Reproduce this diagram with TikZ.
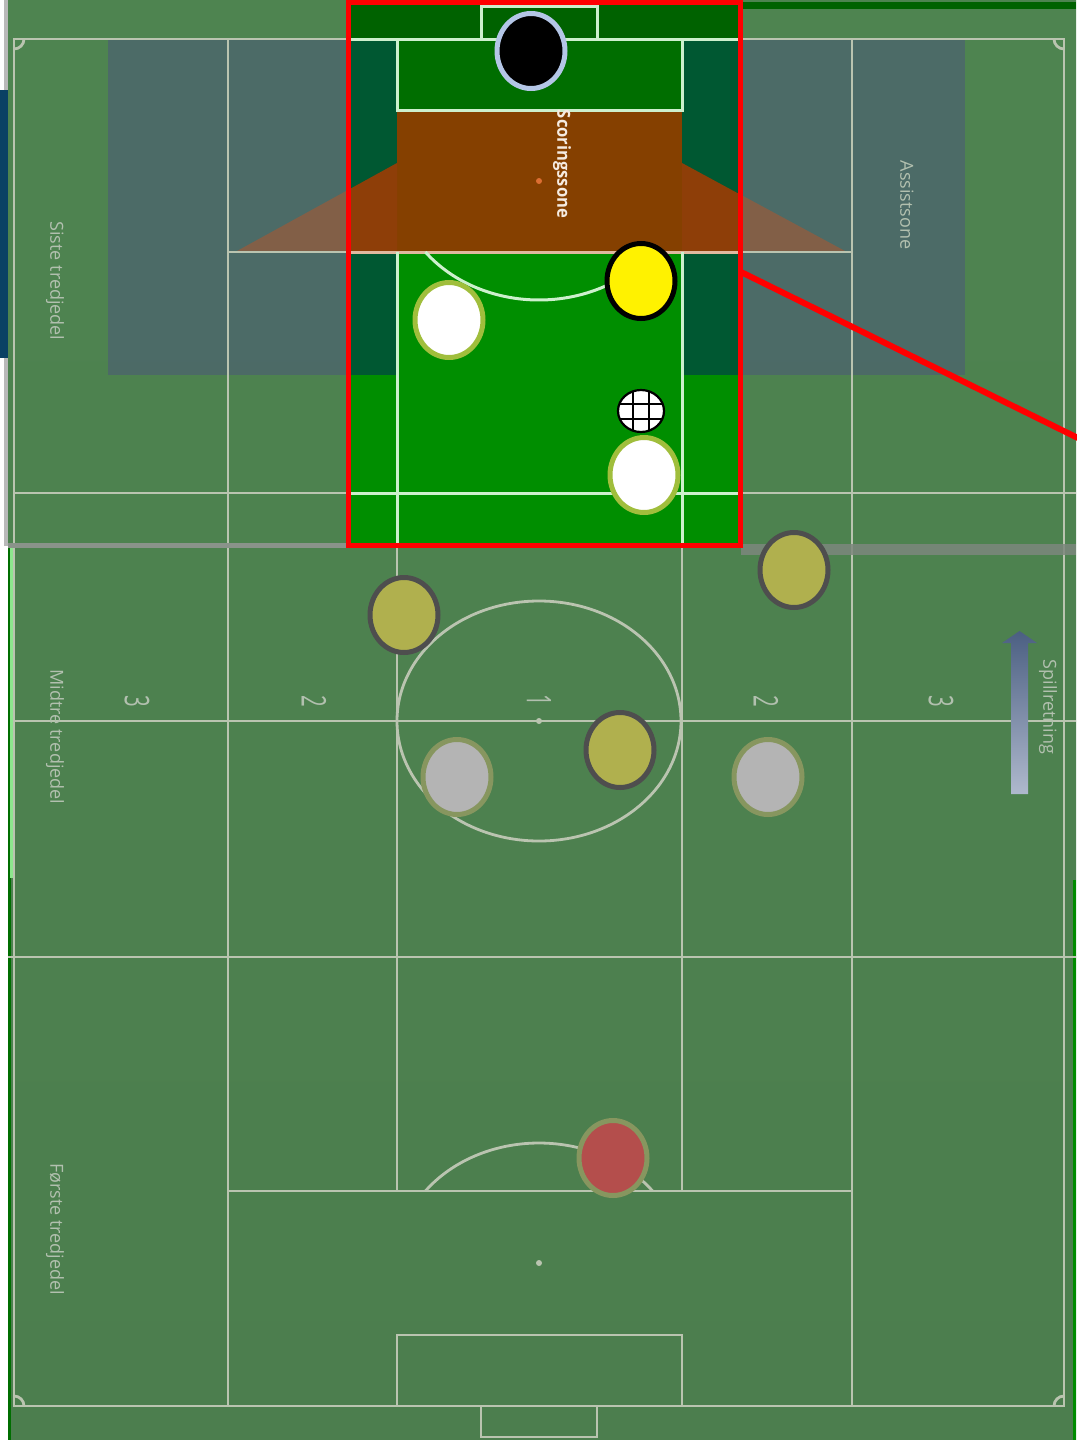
\documentclass[tikz,border=0pt]{standalone}
\usepackage{fontspec}
\setmainfont{Open Sans}
\usetikzlibrary{shapes.geometric}
\definecolor{fTop}{RGB}{78,132,80}
\definecolor{fMid}{RGB}{70,152,70}
\definecolor{fBot}{RGB}{76,126,78}
\definecolor{lineC}{RGB}{186,196,176}
\definecolor{lblC}{RGB}{178,192,175}
\definecolor{blueOv}{RGB}{75,78,132}
\definecolor{brownOv}{RGB}{185,85,40}
\definecolor{inTop}{RGB}{0,98,0}
\definecolor{inGoal}{RGB}{0,110,0}
\definecolor{inSide}{RGB}{0,88,50}
\definecolor{inBrown}{RGB}{133,64,0}
\definecolor{inBrownT}{RGB}{142,62,8}
\definecolor{inGreen}{RGB}{0,142,0}
\definecolor{inLine}{RGB}{205,240,205}
\definecolor{penLine}{RGB}{225,185,160}
\definecolor{redBox}{RGB}{255,0,0}
\definecolor{gkBorder}{RGB}{180,198,230}
\definecolor{whBorder}{RGB}{160,190,60}
\definecolor{oliveFill}{RGB}{176,176,78}
\definecolor{oliveBorder}{RGB}{78,78,78}
\definecolor{grayFill}{RGB}{180,180,180}
\definecolor{grayBorder}{RGB}{135,150,95}
\definecolor{redFill}{RGB}{180,78,76}
\definecolor{arrTop}{RGB}{75,95,130}
\definecolor{arrBot}{RGB}{175,185,205}
\definecolor{edgeBlue}{RGB}{10,65,100}
\definecolor{edgeGray}{RGB}{185,185,185}
\definecolor{edgeLight}{RGB}{140,230,140}
\definecolor{edgeDark}{RGB}{0,110,0}
\definecolor{barGray}{RGB}{125,135,125}
\definecolor{spotC}{RGB}{220,110,50}
\definecolor{scoreTxt}{RGB}{245,235,225}
\begin{document}
\begin{tikzpicture}[x=1pt,y=-1pt,
  fieldline/.style={draw=lineC, line width=2.8pt},
  insetline/.style={draw=inLine, line width=3pt},
  lbl/.style={text=lblC, font=\fontsize{18}{20}\selectfont, rotate=-90, inner sep=0pt},
  num/.style={text=lblC, font=\fontsize{34}{36}\selectfont, rotate=-90, inner sep=0pt},
  player/.style={ellipse, inner sep=0pt, minimum width=68pt, minimum height=75pt, line width=5pt},
  gk/.style={player, fill=black, draw=gkBorder},
  attacker/.style={player, fill=yellow, draw=black},
  mate/.style={player, fill=white, draw=whBorder},
  opp/.style={player, fill=oliveFill, draw=oliveBorder},
  grey/.style={player, fill=grayFill, draw=grayBorder},
  redp/.style={player, fill=redFill, draw=grayBorder},
  ballst/.style={ellipse, inner sep=0pt, minimum width=46pt, minimum height=42pt, fill=white}
]
\useasboundingbox (0,0) rectangle (1076,1440);
\fill[white] (0,0) rectangle (1076,1440);
% field
\shade[top color=fTop, middle color=fMid, bottom color=fBot] (8,0) rectangle (1076,1440);
% edges
\fill[edgeGray] (4,0) rectangle (8,546);
\fill[edgeBlue] (0,90) rectangle (8,358);
\fill[edgeLight] (10,548) rectangle (14,878);
\fill[edgeDark] (8,548) rectangle (10,878);
\fill[edgeDark] (8,878) rectangle (11,1440);
\fill[edgeDark!80!green] (1073,880) rectangle (1076,1440);
% zone overlays
\fill[blueOv, opacity=0.45] (108,39) rectangle (965,375);
\fill[brownOv, opacity=0.5] (237,251) -- (397,163) -- (397,110) -- (682,110) -- (682,163) -- (845,251) -- cycle;
% field lines
\draw[fieldline] (14,39) rectangle (1064,1406);
\draw[fieldline] (14,493) -- (1076,493);
\draw[fieldline] (14,721) -- (1076,721);
\draw[fieldline] (8,957) -- (1076,957);
\foreach \xx in {228,852} \draw[fieldline] (\xx,39) -- (\xx,1406);
\foreach \xx in {397,682} \draw[fieldline] (\xx,252) -- (\xx,1191);
\draw[fieldline] (397,39) rectangle (682,110);
\draw[fieldline] (539,721) ellipse [x radius=142, y radius=120];
\fill[lineC] (539,721) circle [radius=3];
\draw[fieldline] (228,252) -- (852,252);
\draw[fieldline] (228,1191) -- (852,1191);
\draw[fieldline] (397,1406) -- (397,1335) -- (682,1335) -- (682,1406);
\draw[fieldline] (481,1406) rectangle (597,1437);
\fill[lineC] (539,1263) circle [radius=3];
\draw[fieldline] (425.4,1191) arc[start angle=216.87, end angle=323.13, x radius=142, y radius=120];
\draw[fieldline] (24,39) arc[start angle=0, end angle=90, radius=10];
\draw[fieldline] (1054,39) arc[start angle=180, end angle=90, radius=10];
\draw[fieldline] (24,1406) arc[start angle=0, end angle=-90, radius=10];
\draw[fieldline] (1054,1406) arc[start angle=180, end angle=270, radius=10];
% labels
\node[lbl] (siste) at (55,281) {Siste tredjedel};
\node[lbl] (midtre) at (55,737) {Midtre tredjedel};
\node[lbl] (forste) at (55,1229) {Første tredjedel};
\node[lbl] (assist) at (907,205) {Assistsone};
\node[lbl] (spill) at (1048,707) {Spillretning};
\node[num] (n3a) at (137,701) {\scalebox{0.6}[1]{3}};
\node[num] (n2a) at (314,701) {\scalebox{0.6}[1]{2}};
\node[num] (n1) at (539,700) {\scalebox{0.6}[1]{1}};
\node[num] (n2b) at (766,701) {\scalebox{0.6}[1]{2}};
\node[num] (n3b) at (941,701) {\scalebox{0.6}[1]{3}};
% direction arrow
\shade[top color=arrTop, bottom color=arrBot] (1011,643) -- (1011,794) -- (1028,794) -- (1028,643) -- (1037,643) -- (1019.5,631) -- (1002,643) -- cycle;
% grey bars
\fill[barGray, opacity=0.85] (741,544) rectangle (1076,555);
\fill[barGray!90!white] (8,543) rectangle (348,548);
\fill[inTop] (741,2) rectangle (1076,9);
% inset
\begin{scope}
\clip (348,2) rectangle (741,546);
\fill[inGreen] (348,2) rectangle (741,546);
\fill[inTop] (348,2) rectangle (741,39);
\fill[inSide] (348,39) rectangle (397,375);
\fill[inSide] (682,39) rectangle (741,375);
\fill[inGoal] (397,39) rectangle (682,110);
\fill[inBrown] (397,110) rectangle (682,252);
\fill[inBrownT] (348,190) -- (397,163) -- (397,252) -- (348,252) -- cycle;
\fill[inBrownT] (682,163) -- (741,195) -- (741,252) -- (682,252) -- cycle;
\draw[insetline] (348,39) -- (741,39);
\draw[insetline] (481,6) rectangle (597,39);
\draw[insetline] (397,39) -- (397,110) -- (682,110) -- (682,39);
\draw[insetline, draw=penLine] (348,252) -- (741,252);
\draw[insetline] (397,252) -- (397,546);
\draw[insetline] (682,252) -- (682,546);
\draw[insetline] (348,493) -- (741,493);
\draw[insetline] (652.6,252) arc[start angle=36.87, end angle=143.13, x radius=142, y radius=120];
\fill[spotC] (539,181) circle [radius=3];
\node[text=scoreTxt, font=\bfseries\fontsize{18}{20}\selectfont, rotate=-90, inner sep=0pt] (scoring) at (562,164) {\scalebox{0.92}[1]{Scoringssone}};
\end{scope}
% red zoom frame
\draw[redBox, line width=5pt] (348.5,2.5) rectangle (740.5,545.5);
\coordinate (zoomA) at (741,272);
\coordinate (zoomB) at (1080,439);
\draw[redBox, line width=6pt] (zoomA) -- (zoomB);
% players
\node[gk] (keeper) at (531,51) {};
\node[attacker] (striker) at (641,281) {};
\node[mate] (mate1) at (449,320) {};
\node[mate] (mate2) at (644,475) {};
\node[opp] (opp1) at (404,615) {};
\node[opp] (opp2) at (794,570) {};
\node[opp] (opp3) at (620,750) {};
\node[grey] (grey1) at (457,777) {};
\node[grey] (grey2) at (768,777) {};
\node[redp] (redpl) at (613,1158) {};
% ball
\node[ballst] (ball) at (641,411) {};
\begin{scope}
\clip (ball.center) ellipse [x radius=23, y radius=21];
\draw[line width=2pt] (633,380) -- (633,440) (649,380) -- (649,440) (600,403.5) -- (680,403.5) (600,418.5) -- (680,418.5);
\end{scope}
\draw[line width=2.2pt] (ball.center) ellipse [x radius=23, y radius=21];
\end{tikzpicture}
\end{document}
